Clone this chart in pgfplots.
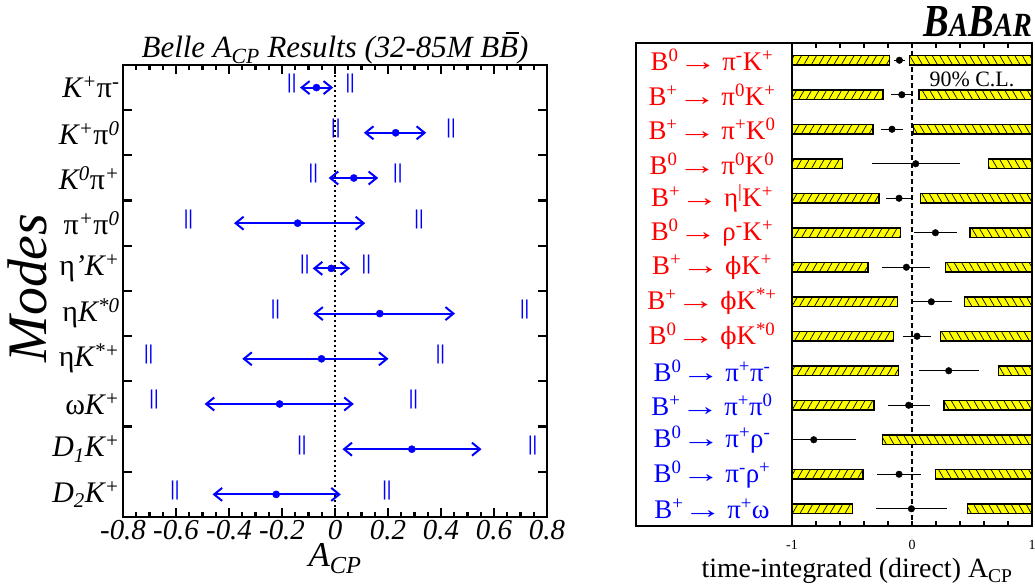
\documentclass[border=0pt]{standalone}
\usepackage{fontspec}
\setmainfont{Liberation Serif}
\newfontfamily\dejaserif{DejaVu Serif}
\usepackage{graphicx}
\usepackage{pgfplots}
\usepackage{pgfplotstable}
\pgfplotsset{compat=1.18}
\usetikzlibrary{arrows.meta,patterns.meta}
\definecolor{belleblue}{RGB}{0,0,255}
\definecolor{babarred}{RGB}{255,0,0}
\definecolor{babarblue}{RGB}{0,0,255}
\definecolor{clyellow}{RGB}{255,255,0}
\newcommand{\up}[1]{\textsuperscript{#1}}
\newcommand{\dn}[1]{\textsubscript{#1}}
\newcommand{\fs}[1]{\fontsize{#1}{#1}\selectfont}
\newcommand{\phis}{{\dejaserif\fontsize{24}{24}\selectfont ϕ}}
\newcommand{\ra}{\scalebox{1.45}[1]{→}\hspace{0.18em}}
\newcommand{\Bbar}{\makebox[0pt][l]{\hspace{0.22em}\rule[0.78em]{0.42em}{0.06em}}B}

% Belle: central value and the two || marks
\pgfplotstableread{
row val L R
1 -0.070 -0.163 0.057
2 0.229 0.003 0.438
3 0.071 -0.082 0.237
4 -0.141 -0.553 0.317
5 -0.014 -0.114 0.118
6 0.169 -0.225 0.716
7 -0.051 -0.703 0.398
8 -0.209 -0.683 0.296
9 0.290 -0.125 0.746
10 -0.222 -0.604 0.196
}\bellerows

% BaBar: value, error, 90% CL limits
\pgfplotstableread{
row val err lo hi
1 -0.105 0.045 -0.186 -0.019
2 -0.085 0.088 -0.242 0.058
3 -0.167 0.095 -0.325 0.011
4 0.031 0.368 -0.580 0.639
5 -0.108 0.108 -0.275 0.073
6 0.195 0.177 -0.097 0.483
7 -0.047 0.200 -0.367 0.281
8 0.161 0.170 -0.122 0.434
9 0.042 0.118 -0.153 0.236
10 0.306 0.250 -0.114 0.722
11 -0.028 0.175 -0.317 0.267
12 -0.819 0.350 -1.000 -0.247
13 -0.108 0.185 -0.408 0.198
14 -0.005 0.299 -0.497 0.464
}\babarrows

\tikzset{
  bellearrow/.style={belleblue, line width=2bp,
    arrows={Straight Barb[length=8bp,width=13bp,line width=2bp]-Straight Barb[length=8bp,width=13bp,line width=2bp]}}
}
\pgfplotsset{
  babargeom/.style={at={(792bp,60bp)}, anchor=south west, width=240bp, height=483bp,
    scale only axis, xmin=-1, xmax=1, ymin=0.5, ymax=14.5, y dir=reverse},
  clbar/.style={draw=black, line width=1.2bp, fill=clyellow,
    postaction={pattern={Lines[angle=#1,distance=6.5bp,line width=0.7bp]}, pattern color=black}}
}

\begin{document}
\begin{tikzpicture}[x=1bp,y=1bp]
\useasboundingbox (0,0) rectangle (1035,586);

% ---------------- Belle ----------------
\begin{axis}[
  at={(123bp,69bp)}, anchor=south west, width=424bp, height=452bp, scale only axis,
  xmin=-0.8, xmax=0.8, ymin=0.5, ymax=10.5, y dir=reverse,
  axis line style={line width=2.6bp},
  tick align=inside,
  major tick length=9bp, minor tick length=5bp,
  tick style={black, line width=2.2bp},
  xtick={-0.8,-0.6,-0.4,-0.2,0,0.2,0.4,0.6,0.8},
  xticklabels={-0.8,-0.6,-0.4,-0.2,0,0.2,0.4,0.6,0.8},
  minor x tick num=3,
  xticklabel style={font=\fs{29}\itshape},
  ytick={1,...,10},
  yticklabels={{K\up{+}\textup{π}\up{-}},{K\up{+}\textup{π}\up{0}},{K\up{0}\textup{π}\up{+}},
    {\textup{π}\up{+}\textup{π}\up{0}},{\textup{η}'K\up{+}},{\textup{η}K\up{*0}},
    {\textup{η}K\up{*+}},{\textup{ω}K\up{+}},{D\dn{1}K\up{+}},{D\dn{2}K\up{+}}},
  ytick style={draw=none},
  yticklabel style={font=\fs{30}\itshape, anchor=east},
  extra y ticks={1.5,2.5,3.5,4.5,5.5,6.5,7.5,8.5,9.5},
  extra y tick labels={},
  extra y tick style={ytick style={draw=black}},
  title={Belle A\dn{CP} Results (32-85M B\Bbar)},
  title style={font=\fs{31}\itshape, yshift=-9bp},
  xlabel={A\dn{CP}}, xlabel style={font=\fs{35}\itshape, yshift=4bp},
]
\addplot[black, line width=2bp, dash pattern=on 2.5bp off 2.5bp] coordinates {(0,0.5) (0,10.5)};
\addplot[bellearrow] coordinates {(-0.132,1) (-0.007,1)};
\addplot[bellearrow] coordinates {(0.109,2) (0.344,2)};
\addplot[bellearrow] coordinates {(-0.024,3) (0.163,3)};
\addplot[bellearrow] coordinates {(-0.381,4) (0.114,4)};
\addplot[bellearrow] coordinates {(-0.084,5) (0.057,5)};
\addplot[bellearrow] coordinates {(-0.082,6) (0.453,6)};
\addplot[bellearrow] coordinates {(-0.350,7) (0.202,7)};
\addplot[bellearrow] coordinates {(-0.492,8) (0.071,8)};
\addplot[bellearrow] coordinates {(0.028,9) (0.553,9)};
\addplot[bellearrow] coordinates {(-0.462,10) (0.022,10)};
\addplot[only marks, mark=*, mark size=3.6bp, belleblue] table[x=val, y=row] {\bellerows};
\addplot[only marks, belleblue, mark=text, text mark={||}, text mark as node=true,
  text mark style={font=\fs{21}\bfseries, yshift=4bp}] table[x=L, y=row] {\bellerows};
\addplot[only marks, belleblue, mark=text, text mark={||}, text mark as node=true,
  text mark style={font=\fs{21}\bfseries, yshift=4bp}] table[x=R, y=row] {\bellerows};
\end{axis}
\node[rotate=90, anchor=base, inner sep=0pt, font=\fs{56}\itshape] at (46,298) {Modes};

% ---------------- BaBar ----------------
\begin{axis}[babargeom, hide axis]
\addplot[black, line width=1.3bp, dash pattern=on 5bp off 3bp] coordinates {(0,0.5) (0,14.5)};
\end{axis}

% excluded region below the lower limit: bars grow from the left edge
\begin{axis}[babargeom, xmin=0, xmax=2, hide axis, xbar, bar width=9.5bp]
\addplot[clbar=60] table[x expr=\thisrow{lo}+1, y=row] {\babarrows};
\end{axis}
% excluded region above the upper limit: bars grow from the right edge
\begin{axis}[babargeom, xmin=-2, xmax=0, hide axis, xbar, bar width=9.5bp]
\addplot[clbar=120] table[x expr=\thisrow{hi}-1, y=row] {\babarrows};
\end{axis}

\begin{axis}[babargeom,
  axis line style={line width=2.2bp},
  tick align=inside, major tick length=5bp,
  tick style={black, line width=1.2bp},
  xtick={-1,-0.8,-0.6,-0.4,-0.2,0,0.2,0.4,0.6,0.8,1},
  xticklabels={-1,,,,,0,,,,,1},
  xticklabel style={font=\fs{14}, yshift=-11bp},
  ytick={1,...,14}, ytick style={draw=none},
  yticklabels={
    {\textcolor{babarred}{B\up{0}\ra π\up{-}K\up{+}}},
    {\textcolor{babarred}{B\up{+}\ra π\up{0}K\up{+}}},
    {\textcolor{babarred}{B\up{+}\ra π\up{+}K\up{0}}},
    {\textcolor{babarred}{B\up{0}\ra π\up{0}K\up{0}}},
    {\textcolor{babarred}{B\up{+}\ra η\up{|}K\up{+}}},
    {\textcolor{babarred}{B\up{0}\ra ρ\up{-}K\up{+}}},
    {\textcolor{babarred}{B\up{+}\ra \phis K\up{+}}},
    {\textcolor{babarred}{B\up{+}\ra \phis K\up{*+}}},
    {\textcolor{babarred}{B\up{0}\ra \phis K\up{*0}}},
    {\textcolor{babarblue}{B\up{0}\ra π\up{+}π\up{-}}},
    {\textcolor{babarblue}{B\up{+}\ra π\up{+}π\up{0}}},
    {\textcolor{babarblue}{B\up{0}\ra π\up{+}ρ\up{-}}},
    {\textcolor{babarblue}{B\up{0}\ra π\up{-}ρ\up{+}}},
    {\textcolor{babarblue}{B\up{+}\ra π\up{+}ω}}},
  yticklabel style={font=\fs{27}, anchor=center, xshift=-80bp},
]
\addplot[only marks, mark=*, mark size=3.3bp, black,
  error bars/.cd, x dir=both, x explicit, error mark=none,
  error bar style={line width=1.3bp, black}]
  table[x=val, y=row, x error=err] {\babarrows};
\node[font=\fs{22}] at (axis cs:0.5,1.55) {90\% C.L.};
\end{axis}

\draw[line width=2.2bp] (636,60) rectangle (792,543);
\node[anchor=base east, inner sep=0pt, font=\bfseries\itshape] at (1032,549)
  {\scalebox{0.84}[1]{\fs{46}B\fs{34}A\fs{46}B\fs{34}AR}};
\node[anchor=base, inner sep=0pt, font=\fs{28}] at (857,8) {time-integrated (direct) A\dn{CP}};
\end{tikzpicture}
\end{document}
